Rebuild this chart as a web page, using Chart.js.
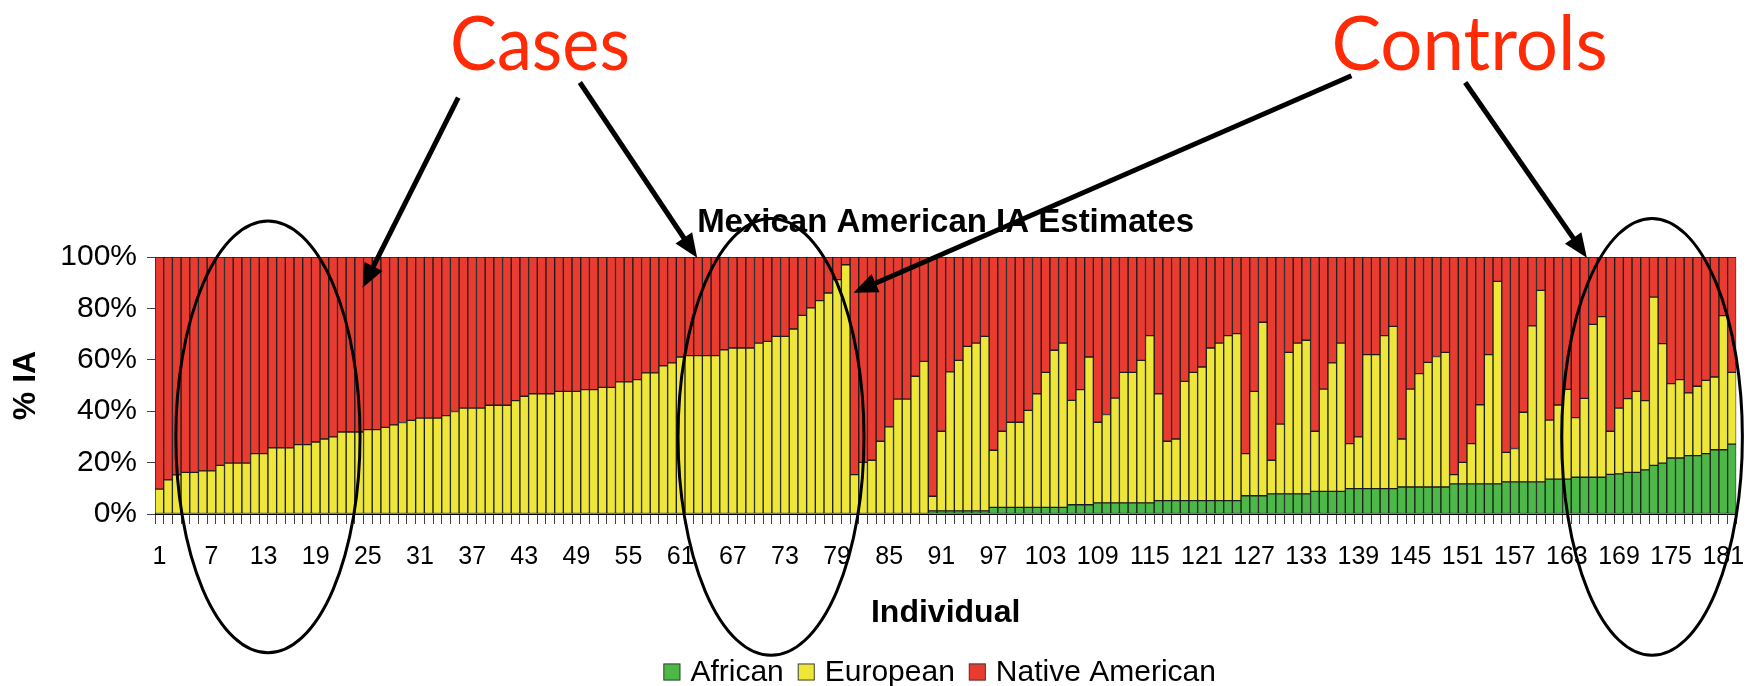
<!DOCTYPE html>
<html>
<head>
<meta charset="utf-8">
<script src="https://cdn.jsdelivr.net/npm/chart.js@4.4.0/dist/chart.umd.min.js"></script>
<style>
  html, body { margin: 0; padding: 0; background: #fff; }
  canvas { display: block; }
</style>
</head>
<body>
<canvas id="iaChart" width="1750" height="686"></canvas>
<script>
// % individual ancestry per person (182 individuals)
const african = [
    0, 0, 0, 0, 0, 0, 0, 0, 0, 0,
    0, 0, 0, 0, 0, 0, 0, 0, 0, 0,
    0, 0, 0, 0, 0, 0, 0, 0, 0, 0,
    0, 0, 0, 0, 0, 0, 0, 0, 0, 0,
    0, 0, 0, 0, 0, 0, 0, 0, 0, 0,
    0, 0, 0, 0, 0, 0, 0, 0, 0, 0,
    0, 0, 0, 0, 0, 0, 0, 0, 0, 0,
    0, 0, 0, 0, 0, 0, 0, 0, 0, 0,
    0, 0, 0, 0, 0, 0, 0, 0, 0, 1.2,
    1.2, 1.2, 1.2, 1.2, 1.2, 1.2, 2.6, 2.6, 2.6, 2.6,
    2.6, 2.6, 2.6, 2.6, 2.6, 3.6, 3.6, 3.6, 4.3, 4.3,
    4.3, 4.3, 4.3, 4.3, 4.3, 5.2, 5.2, 5.2, 5.2, 5.2,
    5.2, 5.2, 5.2, 5.2, 5.2, 7.1, 7.1, 7.1, 7.8, 7.8,
    7.8, 7.8, 7.8, 8.8, 8.8, 8.8, 8.8, 9.9, 9.9, 9.9,
    9.9, 9.9, 9.9, 10.5, 10.5, 10.5, 10.5, 10.5, 10.5, 11.7,
    11.7, 11.7, 11.7, 11.7, 11.7, 12.5, 12.5, 12.5, 12.5, 12.5,
    13.6, 13.6, 13.6, 14.3, 14.3, 14.3, 14.3, 15.4, 15.6, 16.2,
    16.2, 17.2, 18.9, 19.8, 21.8, 21.8, 22.7, 22.7, 23.5, 25.0,
    25.0, 27.2,
]
const european = [
    9.7, 13.3, 15.2, 16.2, 16.2, 16.8, 16.8, 18.9, 19.8, 19.8,
    19.8, 23.5, 23.5, 25.7, 25.7, 25.7, 27.0, 27.0, 28.0, 29.2,
    30.0, 31.9, 31.9, 31.9, 32.8, 32.8, 33.7, 34.7, 35.6, 36.4,
    37.3, 37.3, 37.3, 38.3, 39.9, 41.2, 41.2, 41.2, 42.3, 42.3,
    42.3, 44.1, 45.8, 46.8, 46.8, 46.8, 47.7, 47.7, 47.7, 48.4,
    48.4, 49.3, 49.3, 51.4, 51.4, 52.3, 54.9, 54.9, 57.7, 58.8,
    61.1, 61.6, 61.6, 61.6, 61.6, 63.9, 64.6, 64.6, 64.6, 66.5,
    67.2, 69.1, 69.1, 72.0, 77.3, 80.2, 83.0, 86.0, 91.2, 97.0,
    15.3, 20.1, 20.9, 28.3, 33.9, 44.7, 44.7, 53.6, 59.4, 5.7,
    31.0, 54.1, 58.6, 64.0, 65.3, 67.9, 22.2, 29.6, 33.1, 33.1,
    37.7, 44.2, 52.5, 61.1, 63.9, 40.6, 44.8, 57.5, 31.4, 34.4,
    40.8, 50.8, 50.8, 55.5, 65.1, 41.6, 23.1, 24.0, 46.4, 49.9,
    52.0, 59.4, 61.3, 64.2, 65.0, 16.4, 40.6, 67.5, 13.1, 27.2,
    55.1, 58.7, 59.8, 23.4, 39.8, 50.0, 57.7, 17.5, 20.1, 52.1,
    52.1, 59.5, 63.1, 18.7, 38.1, 44.1, 48.5, 50.8, 52.4, 3.6,
    8.4, 15.7, 30.8, 50.3, 78.8, 11.5, 13.0, 27.1, 60.7, 74.5,
    22.9, 28.8, 34.9, 23.2, 30.7, 59.5, 62.5, 16.8, 25.6, 28.7,
    31.5, 26.9, 65.5, 46.5, 28.9, 30.5, 24.4, 27.0, 28.5, 28.3,
    52.2, 27.9,
]
const nativeAmerican = [
    90.3, 86.7, 84.8, 83.8, 83.8, 83.2, 83.2, 81.1, 80.2, 80.2,
    80.2, 76.5, 76.5, 74.3, 74.3, 74.3, 73.0, 73.0, 72.0, 70.8,
    70.0, 68.1, 68.1, 68.1, 67.2, 67.2, 66.3, 65.3, 64.4, 63.6,
    62.7, 62.7, 62.7, 61.7, 60.1, 58.8, 58.8, 58.8, 57.7, 57.7,
    57.7, 55.9, 54.2, 53.2, 53.2, 53.2, 52.3, 52.3, 52.3, 51.6,
    51.6, 50.7, 50.7, 48.6, 48.6, 47.7, 45.1, 45.1, 42.3, 41.2,
    38.9, 38.4, 38.4, 38.4, 38.4, 36.1, 35.4, 35.4, 35.4, 33.5,
    32.8, 30.9, 30.9, 28.0, 22.7, 19.8, 17.0, 14.0, 8.8, 3.0,
    84.7, 79.9, 79.1, 71.7, 66.1, 55.3, 55.3, 46.4, 40.6, 93.1,
    67.8, 44.7, 40.2, 34.8, 33.5, 30.9, 75.2, 67.8, 64.3, 64.3,
    59.7, 53.2, 44.9, 36.3, 33.5, 55.8, 51.6, 38.9, 64.3, 61.3,
    54.9, 44.9, 44.9, 40.2, 30.6, 53.2, 71.7, 70.8, 48.4, 44.9,
    42.8, 35.4, 33.5, 30.6, 29.8, 76.5, 52.3, 25.4, 79.1, 65.0,
    37.1, 33.5, 32.4, 67.8, 51.4, 41.2, 33.5, 72.6, 70.0, 38.0,
    38.0, 30.6, 27.0, 70.8, 51.4, 45.4, 41.0, 38.7, 37.1, 84.7,
    79.9, 72.6, 57.5, 38.0, 9.5, 76.0, 74.5, 60.4, 26.8, 13.0,
    63.5, 57.6, 51.5, 62.5, 55.0, 26.2, 23.2, 67.8, 58.8, 55.1,
    52.3, 55.9, 15.6, 33.7, 49.3, 47.7, 52.9, 50.3, 48.0, 46.7,
    22.8, 44.9,
]

// individual numbers 1..182, a label shown every 6th
const individuals = african.map((_, i) => String(i + 1))
const labelEvery = 6
const yTicks = [0, 20, 40, 60, 80, 100]

const chartTitle = "Mexican American IA Estimates"

// slide annotations, in axis units (category index, % value)
const callouts = [
    { text: "Cases", x: 43.8, y: 172.9, width: 20.7 },
    { text: "Controls", x: 150.8, y: 172.9, width: 31.8 },
]
const ovals = [
    { x: 12.5, y: 30, rx: 10.6, ry: 84 },
    { x: 70.4, y: 30, rx: 10.7, ry: 85 },
    { x: 171.8, y: 30, rx: 10.4, ry: 85 },
]
const arrows = [
    { from: [34.4, 162.0], to: [23.4, 88.0] },
    { from: [48.4, 167.9], to: [61.9, 99.7] },
    { from: [137.2, 170.5], to: [79.9, 86.1] },
    { from: [150.3, 167.9], to: [164.3, 99.7] },
]

const colors = ["#4CB848", "#EEE73A", "#E93B30"]

// title, legend and the red/black slide markings drawn on top
const slideMarks = {
    id: "slideMarks",
    afterDraw(chart) {
        const { ctx, chartArea: area, scales: { x, y } } = chart
        const mid = (area.left + area.right) / 2
        ctx.save()

        // chart title
        ctx.fillStyle = "#000"
        ctx.font = 'bold 33px "Liberation Sans", Arial, sans-serif'
        ctx.textAlign = "center"
        ctx.textBaseline = "middle"
        ctx.fillText(chartTitle, mid, area.top - 34)

        // legend
        ctx.font = '30px "Liberation Sans", Arial, sans-serif'
        ctx.textAlign = "left"
        const items = chart.data.datasets.map((ds) => ({
            label: ds.label,
            color: ds.backgroundColor,
            w: ctx.measureText(ds.label).width,
        }))
        const box = 17
        const total = items.reduce((s, it) => s + box + 10 + it.w, 0) + 13 * (items.length - 1)
        let lx = mid - 7 - total / 2
        const ly = chart.height - 14
        items.forEach((it) => {
            ctx.fillStyle = it.color
            ctx.fillRect(lx, ly - box / 2, box, box)
            ctx.strokeStyle = "#444"
            ctx.lineWidth = 1
            ctx.strokeRect(lx + 0.5, ly - box / 2 + 0.5, box - 1, box - 1)
            ctx.fillStyle = "#000"
            ctx.fillText(it.label, lx + box + 10, ly + 1)
            lx += box + 10 + it.w + 14
        })

        // ovals
        ctx.strokeStyle = "#000"
        ctx.lineWidth = 3
        ovals.forEach((o) => {
            const cx = x.getPixelForValue(o.x)
            const cy = y.getPixelForValue(o.y)
            const rx = x.getPixelForValue(o.x + o.rx) - cx
            const ry = y.getPixelForValue(o.y - o.ry) - cy
            ctx.beginPath()
            ctx.ellipse(cx, cy, rx, ry, 0, 0, Math.PI * 2)
            ctx.stroke()
        })

        // arrows
        ctx.fillStyle = "#000"
        ctx.lineWidth = 5
        ctx.lineCap = "butt"
        arrows.forEach((a) => {
            const x0 = x.getPixelForValue(a.from[0])
            const y0 = y.getPixelForValue(a.from[1])
            const x1 = x.getPixelForValue(a.to[0])
            const y1 = y.getPixelForValue(a.to[1])
            const ang = Math.atan2(y1 - y0, x1 - x0)
            const head = 24
            const half = 10
            const bx = x1 - head * Math.cos(ang)
            const by = y1 - head * Math.sin(ang)
            ctx.beginPath()
            ctx.moveTo(x0, y0)
            ctx.lineTo(bx + 2 * Math.cos(ang), by + 2 * Math.sin(ang))
            ctx.stroke()
            ctx.beginPath()
            ctx.moveTo(x1, y1)
            ctx.lineTo(bx + half * Math.sin(ang), by - half * Math.cos(ang))
            ctx.lineTo(bx - half * Math.sin(ang), by + half * Math.cos(ang))
            ctx.closePath()
            ctx.fill()
        })

        // red callout words
        ctx.fillStyle = "#FF2B06"
        ctx.font = '76px Lato, "Open Sans", sans-serif'
        ctx.textAlign = "center"
        ctx.textBaseline = "alphabetic"
        callouts.forEach((c) => {
            const cx = x.getPixelForValue(c.x)
            const base = y.getPixelForValue(c.y)
            const want = x.getPixelForValue(c.x + c.width) - cx
            const sx = want / ctx.measureText(c.text).width
            ctx.save()
            ctx.translate(cx, base)
            ctx.scale(sx, 1)
            ctx.fillText(c.text, 0, 0)
            ctx.restore()
        })

        ctx.restore()
    },
}

const ctx = document.getElementById("iaChart").getContext("2d")

new Chart(ctx, {
    type: "bar",
    data: {
        labels: individuals,
        datasets: [
            { label: "African", data: african, backgroundColor: colors[0] },
            { label: "European", data: european, backgroundColor: colors[1] },
            { label: "Native American", data: nativeAmerican, backgroundColor: colors[2] },
        ],
    },
    options: {
        responsive: false,
        animation: false,
        layout: { padding: { top: 257, right: 13, left: 0, bottom: 0 } },
        datasets: {
            bar: {
                borderColor: "#1c1c1c",
                borderWidth: 1,
                borderSkipped: false,
                barPercentage: 1,
                categoryPercentage: 1,
            },
        },
        plugins: {
            legend: { display: false },
            title: { display: false },
            tooltip: { enabled: false },
        },
        scales: {
            x: {
                stacked: true,
                grid: {
                    display: true,
                    drawOnChartArea: false,
                    drawTicks: true,
                    tickLength: 10,
                    color: "#444",
                    offset: true,
                },
                border: { display: true, color: "#000", width: 1 },
                ticks: {
                    autoSkip: false,
                    maxRotation: 0,
                    minRotation: 0,
                    padding: 18,
                    color: "#000",
                    font: { family: "Liberation Sans", size: 25 },
                    callback: (v, i) => (i % labelEvery === 0 ? individuals[i] : ""),
                },
                title: {
                    display: true,
                    text: "Individual",
                    color: "#000",
                    font: { family: "Liberation Sans", size: 32, weight: "bold" },
                    padding: { top: 0, bottom: 54 },
                },
                afterFit: (scale) => {
                    scale.height = 172
                },
            },
            y: {
                stacked: true,
                min: 0,
                max: 100,
                afterBuildTicks: (scale) => {
                    scale.ticks = yTicks.map((v) => ({ value: v }))
                },
                ticks: {
                    padding: 10,
                    color: "#000",
                    font: { family: "Liberation Sans", size: 30 },
                    callback: (v) => v + "%",
                },
                grid: {
                    drawOnChartArea: false,
                    drawTicks: true,
                    tickLength: 8,
                    color: "#444",
                },
                border: { display: true, color: "#000", width: 1 },
                title: {
                    display: true,
                    text: "% IA",
                    color: "#000",
                    font: { family: "Liberation Sans", size: 32, weight: "bold" },
                    padding: { top: 7, bottom: 0 },
                },
                afterFit: (scale) => {
                    scale.width = 155
                },
            },
        },
    },
    plugins: [slideMarks],
})
</script>
</body>
</html>
